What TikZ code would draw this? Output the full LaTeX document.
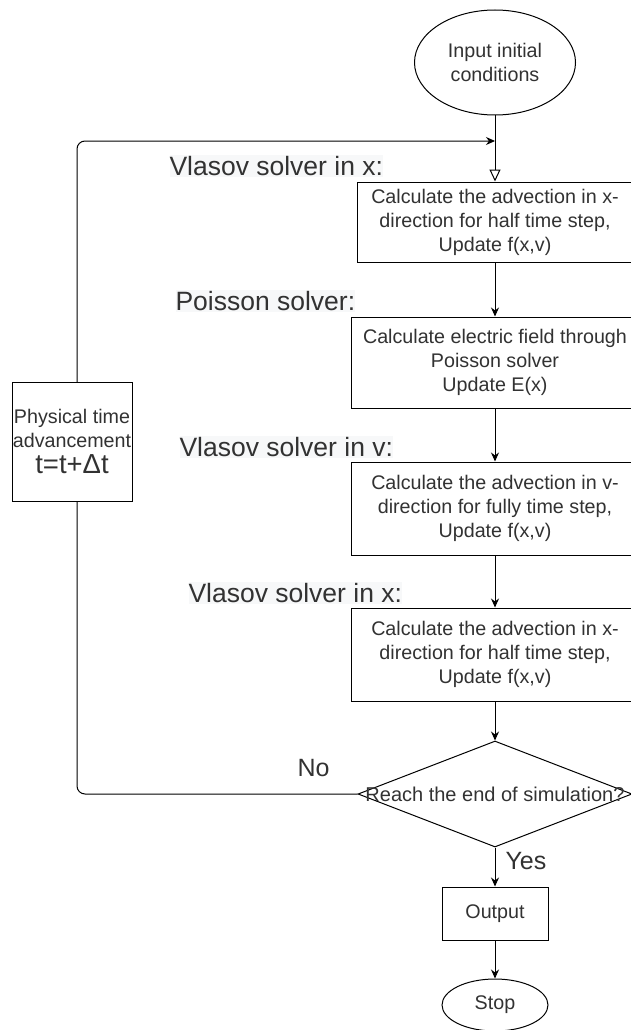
\documentclass[tikz,border=0pt]{standalone}
\usepackage{fontspec}
\setmainfont{Liberation Sans}
\usetikzlibrary{shapes.geometric,arrows.meta}
\definecolor{txt}{RGB}{50,50,50}
\definecolor{hl}{RGB}{247,248,249}
\begin{document}
\begin{tikzpicture}[x=1pt,y=-1pt,line width=1pt,
  every node/.style={text=txt,inner sep=0pt},
  proc/.style={draw,fill=white,align=center,font=\fontsize{19.7}{24}\selectfont},
  term/.style={draw,ellipse,fill=white,align=center,font=\fontsize{19.7}{23.5}\selectfont},
  lab/.style={fill=hl,anchor=west,inner ysep=1.5pt,font=\fontsize{26.5}{30}\selectfont},
  side/.style={font=\fontsize{25}{28}\selectfont},
  flow/.style={-{Stealth[length=9pt,width=8pt]}},
  opentip/.style={-{Triangle[fill=white,length=12pt,width=11pt]}}
]
\useasboundingbox (0,0) rectangle (630,1030);

\node[term,minimum width=161pt,minimum height=105pt] (in) at (495,62.5) {Input initial\\conditions};
\node[proc,minimum width=276pt,minimum height=80pt] (b1) at (495,222) {Calculate the advection in x-\\direction for half time step,\\Update f(x,v)};
\node[proc,minimum width=288pt,minimum height=91pt] (b2) at (495,362.5) {Calculate electric field through\\Poisson solver\\Update E(x)};
\node[proc,minimum width=288pt,minimum height=93pt] (b3) at (495,508.5) {Calculate the advection in v-\\direction for fully time step,\\Update f(x,v)};
\node[proc,minimum width=288pt,minimum height=93pt] (b4) at (495,654.5) {Calculate the advection in x-\\direction for half time step,\\Update f(x,v)};
\node[draw,diamond,minimum width=274pt,minimum height=106pt] (dec) at (495,794) {};
\node[font=\fontsize{20}{23}\selectfont] (dect) at (dec.center) {Reach the end of simulation?};
\node[proc,minimum width=106pt,minimum height=53pt] (out) at (495,913.5) {Output};
\node[term,minimum width=106pt,minimum height=52pt] (stop) at (495,1005) {Stop};

\node[lab] (l1) at (169,166) {Vlasov solver in x:};
\node[lab] (l2) at (175,301) {Poisson solver:};
\node[lab] (l3) at (179,447) {Vlasov solver in v:};
\node[lab] (l4) at (188,593) {Vlasov solver in x:};
\node[side] (no) at (313.5,768) {No};
\node[side,anchor=west] (yes) at (505,861) {Yes};

\draw[opentip] (in) -- (b1);
\draw[flow] (b1) -- (b2);
\draw[flow] (b2) -- (b3);
\draw[flow] (b3) -- (b4);
\draw[flow] (b4) -- (dec);
\draw[flow] (dec) -- (out);
\draw[flow] (out) -- (stop);

\coordinate (lb) at (77,141);
\coordinate (le) at (495,141);
\draw[flow,rounded corners=8pt] (dec.west) -| (lb) -- (le);

\node[proc,minimum width=120pt,minimum height=119pt] (phys) at (72,441.5)
  {Physical time\\advancement\\[2pt]{\fontsize{27.5}{30}\selectfont t=t+Δt}};
\end{tikzpicture}
\end{document}
